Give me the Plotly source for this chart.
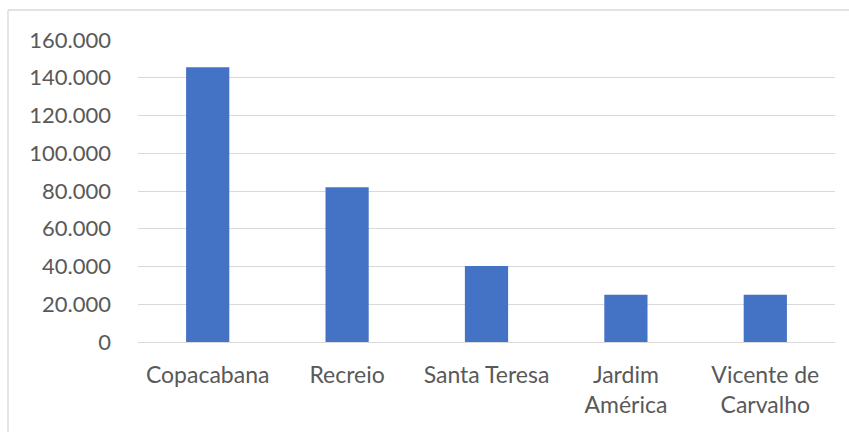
import plotly.graph_objects as go

categories = ["Copacabana", "Recreio", "Santa Teresa", "Jardim<br>América", "Vicente de<br>Carvalho"]
values = [145500, 82000, 40300, 25000, 25000]
tick_vals = [0, 20000, 40000, 60000, 80000, 100000, 120000, 140000, 160000]

W, H = 849, 432
L, R, T, B = 138, 14, 40, 90

fig = go.Figure(go.Bar(x=categories, y=values, marker=dict(color="#4472C4", line=dict(width=0)), width=0.31))

pw = W - L - R
ph = H - T - B
# border lines (left and top) of chart area
x_left = (8 - L) / pw
y_top = (H - B - 10) / ph
fig.add_shape(type="line", xref="paper", yref="paper", x0=x_left, x1=x_left, y0=y_top, y1=-1,
              line=dict(color="#d9d9d9", width=1.3))
fig.add_shape(type="line", xref="paper", yref="paper", x0=x_left, x1=2, y0=y_top, y1=y_top,
              line=dict(color="#d9d9d9", width=1.3))

fig.update_layout(
    width=W, height=H,
    margin=dict(l=L, r=R, t=T, b=B),
    paper_bgcolor="white", plot_bgcolor="white",
    separators=",.",
    font=dict(family="Lato", size=22, color="#595959"),
    showlegend=False,
)
fig.update_xaxes(showgrid=False, showline=False, ticks="", tickangle=0, ticklabelstandoff=17,
                 tickfont=dict(size=23))
fig.update_yaxes(range=[0, 160000], tickvals=tick_vals, tickformat=",d", showgrid=True,
                 gridcolor="#d9d9d9", gridwidth=1.3, zeroline=True, zerolinecolor="#d9d9d9",
                 zerolinewidth=1.3, showline=False, ticks="", ticklabelstandoff=26,
                 tickfont=dict(size=22))

fig.write_html("out.html")
